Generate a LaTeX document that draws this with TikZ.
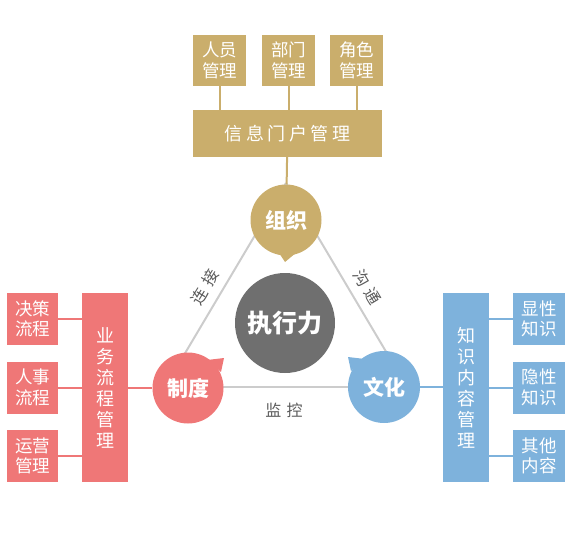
\documentclass[tikz,border=0pt]{standalone}
\usepackage{fontspec}
\setmainfont{Noto Sans CJK SC}
\newfontfamily\spacedcjk[LetterSpace=20]{Noto Sans CJK SC}
\newfontfamily\labelcjk[LetterSpace=35]{Noto Sans CJK SC}
\usepackage{xcolor}
\usepackage{tikz}
\usetikzlibrary{positioning,calc}
\definecolor{zxgold}{HTML}{CAAE6C}
\definecolor{zxred}{HTML}{EF7777}
\definecolor{zxblue}{HTML}{7EB2DC}
\definecolor{zxgray}{HTML}{6F6F6F}
\definecolor{zxline}{HTML}{CCCCCC}
\definecolor{zxtext}{HTML}{5A5A5A}

\begin{document}
\begin{tikzpicture}[x=1pt,y=-1pt,
  box/.style={inner sep=0pt,align=center,text=white,font=\fontsize{17.5}{20.5}\selectfont},
  gbox/.style={box,fill=zxgold,minimum width=53pt,minimum height=51pt},
  rbox/.style={box,fill=zxred,minimum width=51pt,minimum height=52pt},
  bbox/.style={box,fill=zxblue,minimum width=52pt,minimum height=52pt},
  vbox/.style={box,minimum width=46pt,minimum height=189pt,font=\fontsize{18}{21}\selectfont},
  blob/.style={circle,inner sep=0pt,text=white,font=\bfseries\fontsize{21}{21}\selectfont},
  tri/.style={zxline,line width=2pt},
  lk/.style={line width=2pt},
  lab/.style={text=zxtext,inner sep=1pt,font=\labelcjk\fontsize{16}{16}\selectfont}]
  \useasboundingbox (0,0) rectangle (573,533);
  % triangle behind the circles
  \coordinate (ta) at (286,183);
  \coordinate (tl) at (165,387);
  \coordinate (tr) at (407,387);
  \draw[tri] (ta) -- (tl);
  \draw[tri] (ta) -- (tr);
  \draw[tri] (tl) -- (tr);
  \node[lab,rotate=59] (lj) at (205,287) {连接};
  \node[lab,rotate=-59] (gt) at (367,287) {沟通};
  \node[lab,font=\fontsize{16}{16}\selectfont] (jk) at (284,410) {监\,\,控};
  % top: organisation
  \node[gbox] (ry) at (219.5,60.5) {人员\\管理};
  \node[gbox] (bm) at (288.5,60.5) {部门\\管理};
  \node[gbox] (js) at (356.5,60.5) {角色\\管理};
  \node[box,fill=zxgold,minimum width=189pt,minimum height=47pt,font=\spacedcjk\fontsize{18}{18}\selectfont] (mh) at (287.5,133.5) {信息门户管理};
  % circles
  \node[blob,fill=zxgold,minimum size=71pt] (zz) at (286,220) {组织};
  \node[blob,fill=zxred,minimum size=71pt] (zd) at (188,388) {制度};
  \node[blob,fill=zxblue,minimum size=72pt] (wh) at (384,387) {文化};
  \node[blob,fill=zxgray,minimum size=100pt,font=\bfseries\fontsize{25}{25}\selectfont] (zx) at (285,323) {执行力};
  % tails
  \fill[zxgold] (279,253) -- (285,262) -- (297,252) -- cycle;
  \fill[zxred] (207,360) -- (224,358) -- (221,372) -- cycle;
  \fill[zxblue] (365,359) -- (348,357) -- (351,371) -- cycle;
  % left: process
  \node[vbox,fill=zxred] (yw) at (105,387.5) {业\\务\\流\\程\\管\\理};
  \node[rbox] (jc) at (32.5,319) {决策\\流程};
  \node[rbox] (rs) at (32.5,387.5) {人事\\流程};
  \node[rbox] (yy) at (32.5,456) {运营\\管理};
  % right: knowledge
  \node[vbox,fill=zxblue] (zs) at (466,387.5) {知\\识\\内\\容\\管\\理};
  \node[bbox] (xx) at (539,319) {显性\\知识};
  \node[bbox] (yx) at (539,387.5) {隐性\\知识};
  \node[bbox] (qt) at (539,456) {其他\\内容};
  % links
  \draw[lk,zxgold] (ry.south) -- (ry.south|-mh.north);
  \draw[lk,zxgold] (bm.south) -- (bm.south|-mh.north);
  \draw[lk,zxgold] (js.south) -- (js.south|-mh.north);
  \draw[lk,zxgold] (mh) -- (zz);
  \draw[lk,zxred] (jc) -- (jc-|yw.west);
  \draw[lk,zxred] (rs) -- (rs-|yw.west);
  \draw[lk,zxred] (yy) -- (yy-|yw.west);
  \draw[lk,zxred] (yw.east|-zd) -- (zd);
  \draw[lk,zxblue] (wh) -- (wh-|zs.west);
  \draw[lk,zxblue] (xx) -- (xx-|zs.east);
  \draw[lk,zxblue] (yx) -- (yx-|zs.east);
  \draw[lk,zxblue] (qt) -- (qt-|zs.east);
\end{tikzpicture}
\end{document}
